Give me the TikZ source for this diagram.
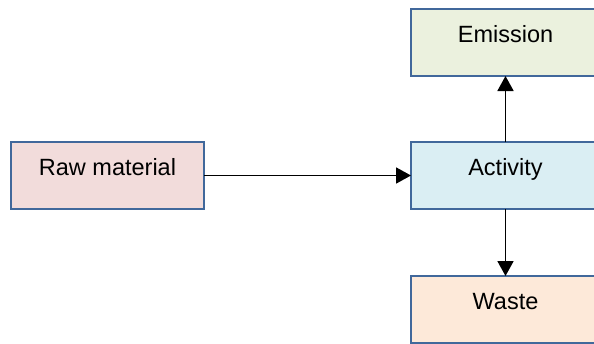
\documentclass[tikz,border=0pt]{standalone}
\usepackage{fontspec}
\setmainfont{Liberation Sans}
\usetikzlibrary{arrows.meta}
\definecolor{bordc}{HTML}{41689B}
\definecolor{rawc}{HTML}{F2DCDB}
\definecolor{emic}{HTML}{EBF1DE}
\definecolor{actc}{HTML}{DAEEF3}
\definecolor{wasc}{HTML}{FDE9D9}
\tikzset{
  boxnode/.style={draw=bordc, line width=2.2pt, rectangle, anchor=north west,
    inner xsep=0pt, inner ysep=0pt, outer sep=0pt,
    text height=33pt, text depth=34pt, minimum height=67pt,
    font=\fontsize{23.5}{28}\selectfont},
  conn/.style={line width=1.8pt, -{Triangle[width=16pt,length=15pt]}}
}
\begin{document}
\begin{tikzpicture}[x=1pt,y=-1pt]
\useasboundingbox (0,0) rectangle (594,343);
\node[boxnode, fill=rawc, minimum width=193pt] (raw) at (11,142) {Raw material};
\node[boxnode, fill=actc, minimum width=189pt] (act) at (411,142) {Activity};
\node[boxnode, fill=emic, minimum width=189pt] (emi) at (411,9) {Emission};
\node[boxnode, fill=wasc, minimum width=189pt] (was) at (411,276) {Waste};
\draw[conn] (raw.east) -- (act.west);
\draw[conn] (act.north) -- (emi.south);
\draw[conn] (act.south) -- (was.north);
\end{tikzpicture}
\end{document}
